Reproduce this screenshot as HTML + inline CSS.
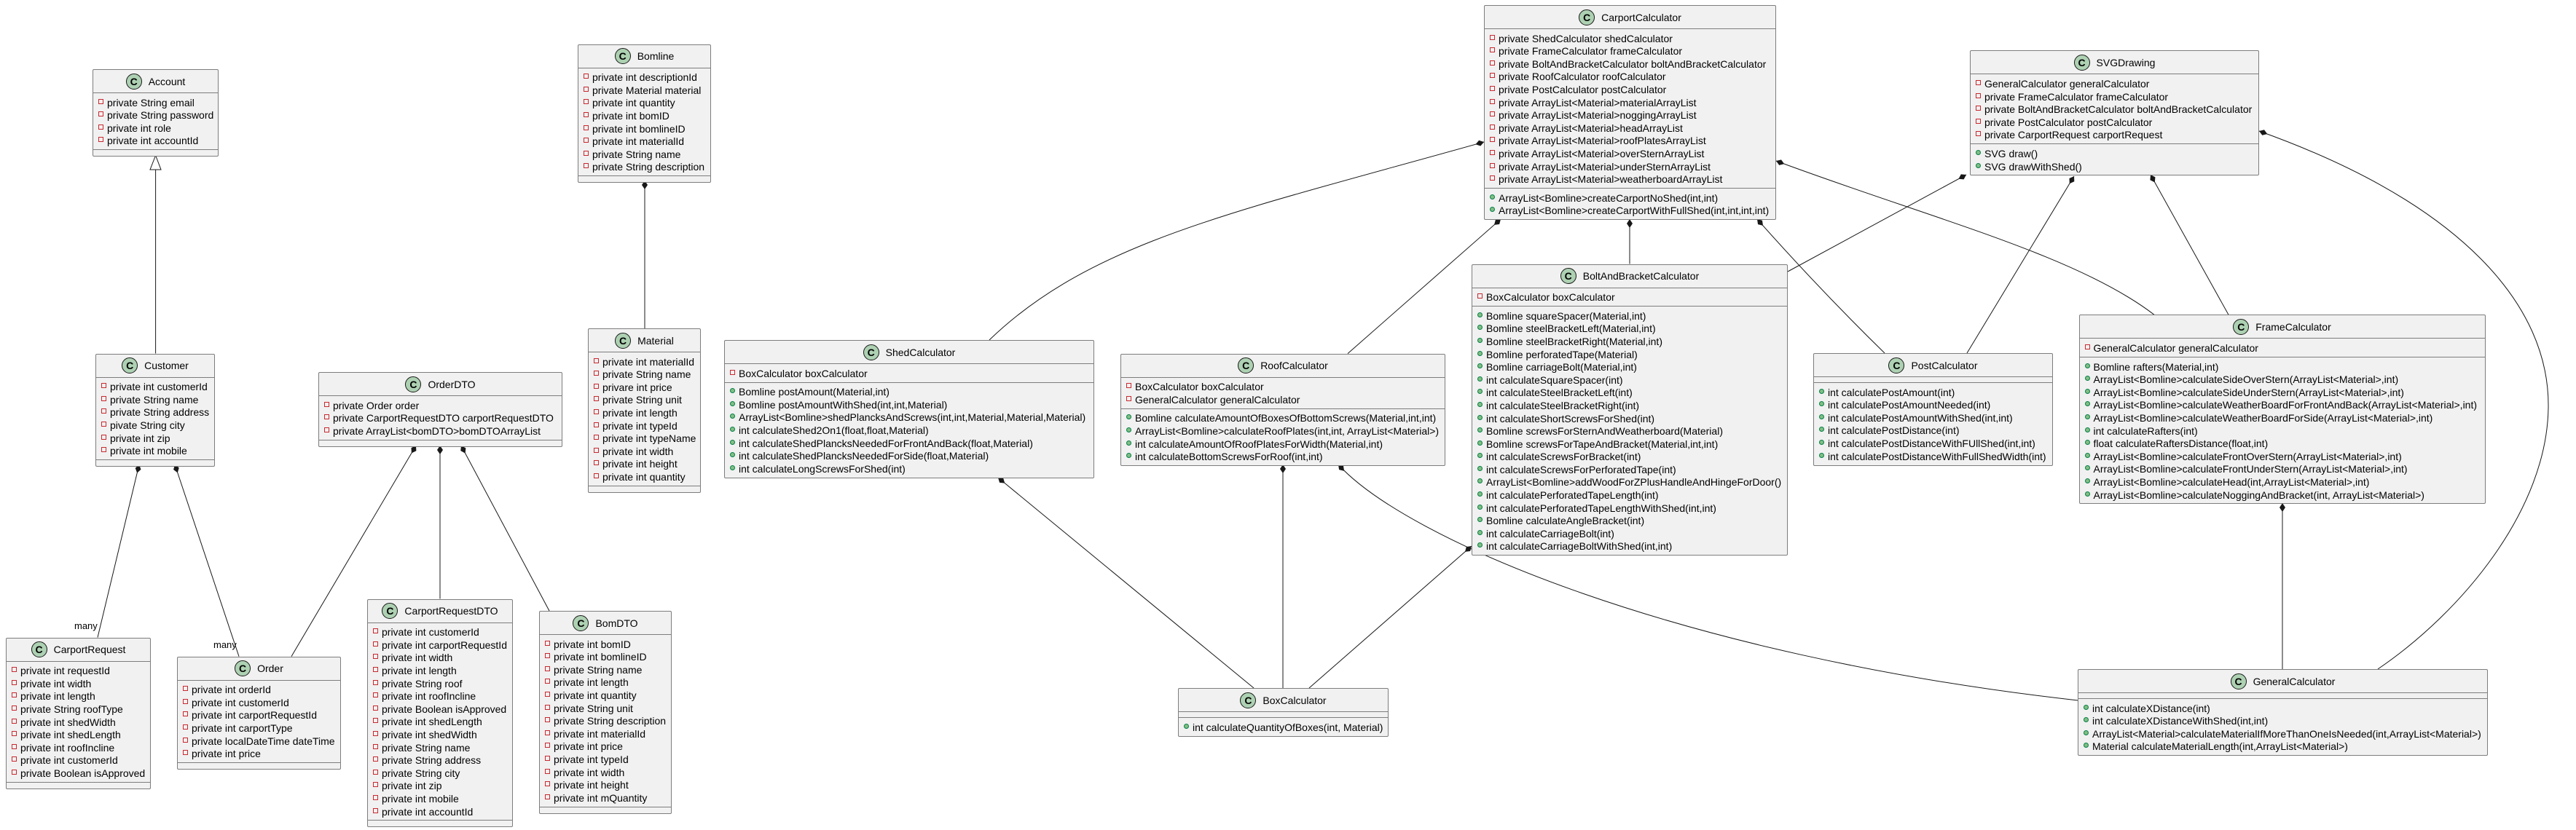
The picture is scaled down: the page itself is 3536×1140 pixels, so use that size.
<!DOCTYPE html>
<html><head><meta charset="utf-8"><style>
html,body{margin:0;padding:0;background:#fff}
body{width:3536px;height:1140px;position:relative;overflow:hidden}
svg{position:absolute;left:0;top:0}
.c{position:absolute;background:#F1F1F1;border:1px solid #7d7d7d;border-radius:2px;box-sizing:border-box;font:14px "Liberation Sans",sans-serif;color:#000}
.h{height:32px;display:flex;align-items:center;justify-content:center;border-bottom:1px solid #7d7d7d;box-sizing:border-box;white-space:nowrap}
.i{width:22px;height:22px;border-radius:50%;background:#ADD1B2;border:1px solid #181818;box-sizing:border-box;font-weight:bold;font-size:14px;display:flex;align-items:center;justify-content:center;margin-right:9px}
.s{padding:4.7px 0 2.3px;border-bottom:1px solid #7d7d7d}
.s:last-child{border-bottom:none}
.e{height:8px;border-bottom:1px solid #7d7d7d;box-sizing:border-box}
.e:last-child{border-bottom:none}
.r{height:17.6px;line-height:17.6px;padding-left:19px;position:relative;white-space:nowrap}
.p::before{content:"";position:absolute;left:7px;top:3px;width:5px;height:5px;border:1px solid #C82930}
.m::before{content:"";position:absolute;left:7px;top:3px;width:5px;height:5px;border-radius:50%;background:#84BE84;border:1px solid #038048}
.lbl{position:absolute;font:13px "Liberation Sans",sans-serif}
</style></head><body>
<svg width="3536" height="1140" viewBox="0 0 3536 1140">
<g fill="none" stroke="#181818" stroke-width="1">
<path d="M885,248 L885,451"/>
<path d="M213.6,233 L213.6,485.5"/>
<path d="M191,638 L134,875.5"/>
<path d="M240,638 L328,901.6"/>
<path d="M571,612 L400,901.6"/>
<path d="M604,612 L604,822.5"/>
<path d="M633,612 L754,839"/>
<path d="M2037,195 C1700,290 1500,330 1358,467"/>
<path d="M2060,301 L1850,485.6"/>
<path d="M2237,301 L2237,362.5"/>
<path d="M2412,301 Q2500,400 2587,485"/>
<path d="M2438,221 C2650,300 2850,350 2957,432.3"/>
<path d="M2699,240 L2454,373"/>
<path d="M2847,242 L2700,485"/>
<path d="M2952,240 L3059,432.3"/>
<path d="M3101,180 C3380,280 3500,420 3498,560 S3380,840 3264,919"/>
<path d="M3133,691 L3133,919"/>
<path d="M1370,656 L1721,945"/>
<path d="M1761,638 L1761,945"/>
<path d="M1837,638 C1930,740 2300,900 2852,962"/>
<path d="M2020,750 L1797,945"/>
</g>
<polygon points="213.6,213.5 206,233 221,233" fill="#fff" stroke="#181818"/>
<g fill="#181818">
<polygon points="0,0 6,-4 12,0 6,4" transform="translate(885,248) rotate(90)"/>
<polygon points="0,0 6,-4 12,0 6,4" transform="translate(191,638) rotate(103.5)"/>
<polygon points="0,0 6,-4 12,0 6,4" transform="translate(240,638) rotate(71.5)"/>
<polygon points="0,0 6,-4 12,0 6,4" transform="translate(571,612) rotate(120.6)"/>
<polygon points="0,0 6,-4 12,0 6,4" transform="translate(604,612) rotate(90)"/>
<polygon points="0,0 6,-4 12,0 6,4" transform="translate(633,612) rotate(61.9)"/>
<polygon points="0,0 6,-4 12,0 6,4" transform="translate(2037,195) rotate(164.3)"/>
<polygon points="0,0 6,-4 12,0 6,4" transform="translate(2060,301) rotate(138.6)"/>
<polygon points="0,0 6,-4 12,0 6,4" transform="translate(2237,301) rotate(90)"/>
<polygon points="0,0 6,-4 12,0 6,4" transform="translate(2412,301) rotate(48)"/>
<polygon points="0,0 6,-4 12,0 6,4" transform="translate(2438,221) rotate(20.4)"/>
<polygon points="0,0 6,-4 12,0 6,4" transform="translate(2699,240) rotate(151.5)"/>
<polygon points="0,0 6,-4 12,0 6,4" transform="translate(2847,242) rotate(121.2)"/>
<polygon points="0,0 6,-4 12,0 6,4" transform="translate(2952,240) rotate(60.9)"/>
<polygon points="0,0 6,-4 12,0 6,4" transform="translate(3101,180) rotate(19.7)"/>
<polygon points="0,0 6,-4 12,0 6,4" transform="translate(3133,691) rotate(90)"/>
<polygon points="0,0 6,-4 12,0 6,4" transform="translate(1370,656) rotate(39.4)"/>
<polygon points="0,0 6,-4 12,0 6,4" transform="translate(1761,638) rotate(90)"/>
<polygon points="0,0 6,-4 12,0 6,4" transform="translate(1837,638) rotate(47.6)"/>
<polygon points="0,0 6,-4 12,0 6,4" transform="translate(2020,750) rotate(138.8)"/>
</g>
</svg>
<div class="lbl" style="left:102px;top:852px">many</div>
<div class="lbl" style="left:293px;top:878px">many</div>

<div class="c" style="left:127px;top:95px;width:173px"><div class="h"><span class="i">C</span>Account</div>
<div class="s"><div class="r p">private String email</div><div class="r p">private String password</div><div class="r p">private int role</div><div class="r p">private int accountId</div></div><div class="e"></div></div>

<div class="c" style="left:793px;top:60.5px;width:183px"><div class="h"><span class="i">C</span>Bomline</div>
<div class="s"><div class="r p">private int descriptionId</div><div class="r p">private Material material</div><div class="r p">private int quantity</div><div class="r p">private int bomID</div><div class="r p">private int bomlineID</div><div class="r p">private int materialId</div><div class="r p">private String name</div><div class="r p">private String description</div></div><div class="e"></div></div>

<div class="c" style="left:807px;top:451px;width:155px"><div class="h"><span class="i">C</span>Material</div>
<div class="s"><div class="r p">private int materialId</div><div class="r p">private String name</div><div class="r p">privare int price</div><div class="r p">private String unit</div><div class="r p">private int length</div><div class="r p">private int typeId</div><div class="r p">private int typeName</div><div class="r p">private int width</div><div class="r p">private int height</div><div class="r p">private int quantity</div></div><div class="e"></div></div>

<div class="c" style="left:131px;top:485.5px;width:164px"><div class="h"><span class="i">C</span>Customer</div>
<div class="s"><div class="r p">private int customerId</div><div class="r p">private String name</div><div class="r p">private String address</div><div class="r p">pivate String city</div><div class="r p">private int zip</div><div class="r p">private int mobile</div></div><div class="e"></div></div>

<div class="c" style="left:437px;top:511px;width:335px"><div class="h"><span class="i">C</span>OrderDTO</div>
<div class="s"><div class="r p">private Order order</div><div class="r p">private CarportRequestDTO carportRequestDTO</div><div class="r p">private ArrayList&lt;bomDTO&gt;bomDTOArrayList</div></div><div class="e"></div></div>

<div class="c" style="left:8px;top:875.5px;width:199px"><div class="h"><span class="i">C</span>CarportRequest</div>
<div class="s"><div class="r p">private int requestId</div><div class="r p">private int width</div><div class="r p">private int length</div><div class="r p">private String roofType</div><div class="r p">private int shedWidth</div><div class="r p">private int shedLength</div><div class="r p">private int roofIncline</div><div class="r p">private int customerId</div><div class="r p">private Boolean isApproved</div></div><div class="e"></div></div>

<div class="c" style="left:243px;top:901.6px;width:225px"><div class="h"><span class="i">C</span>Order</div>
<div class="s"><div class="r p">private int orderId</div><div class="r p">private int customerId</div><div class="r p">private int carportRequestId</div><div class="r p">private int carportType</div><div class="r p">private localDateTime dateTime</div><div class="r p">private int price</div></div><div class="e"></div></div>

<div class="c" style="left:504px;top:822.5px;width:200px"><div class="h"><span class="i">C</span>CarportRequestDTO</div>
<div class="s"><div class="r p">private int customerId</div><div class="r p">private int carportRequestId</div><div class="r p">private int width</div><div class="r p">private int length</div><div class="r p">private String roof</div><div class="r p">private int roofIncline</div><div class="r p">private Boolean isApproved</div><div class="r p">private int shedLength</div><div class="r p">private int shedWidth</div><div class="r p">private String name</div><div class="r p">private String address</div><div class="r p">private String city</div><div class="r p">private int zip</div><div class="r p">private int mobile</div><div class="r p">private int accountId</div></div><div class="e"></div></div>

<div class="c" style="left:740px;top:839px;width:182px"><div class="h"><span class="i">C</span>BomDTO</div>
<div class="s"><div class="r p">private int bomID</div><div class="r p">private int bomlineID</div><div class="r p">private String name</div><div class="r p">private int length</div><div class="r p">private int quantity</div><div class="r p">private String unit</div><div class="r p">private String description</div><div class="r p">private int materialId</div><div class="r p">private int price</div><div class="r p">private int typeId</div><div class="r p">private int width</div><div class="r p">private int height</div><div class="r p">private int mQuantity</div></div><div class="e"></div></div>

<div class="c" style="left:994px;top:467px;width:508px"><div class="h"><span class="i">C</span>ShedCalculator</div>
<div class="s"><div class="r p">BoxCalculator boxCalculator</div></div>
<div class="s"><div class="r m">Bomline postAmount(Material,int)</div><div class="r m">Bomline postAmountWithShed(int,int,Material)</div><div class="r m">ArrayList&lt;Bomline&gt;shedPlancksAndScrews(int,int,Material,Material,Material)</div><div class="r m">int calculateShed2On1(float,float,Material)</div><div class="r m">int calculateShedPlancksNeededForFrontAndBack(float,Material)</div><div class="r m">int calculateShedPlancksNeededForSide(float,Material)</div><div class="r m">int calculateLongScrewsForShed(int)</div></div></div>

<div class="c" style="left:1538px;top:485.6px;width:446px"><div class="h"><span class="i">C</span>RoofCalculator</div>
<div class="s"><div class="r p">BoxCalculator boxCalculator</div><div class="r p">GeneralCalculator generalCalculator</div></div>
<div class="s"><div class="r m">Bomline calculateAmountOfBoxesOfBottomScrews(Material,int,int)</div><div class="r m">ArrayList&lt;Bomline&gt;calculateRoofPlates(int,int, ArrayList&lt;Material&gt;)</div><div class="r m">int calculateAmountOfRoofPlatesForWidth(Material,int)</div><div class="r m">int calculateBottomScrewsForRoof(int,int)</div></div></div>

<div class="c" style="left:1617px;top:945px;width:289px"><div class="h"><span class="i">C</span>BoxCalculator</div>
<div class="e"></div>
<div class="s"><div class="r m">int calculateQuantityOfBoxes(int, Material)</div></div></div>

<div class="c" style="left:2037px;top:7px;width:401px"><div class="h"><span class="i">C</span>CarportCalculator</div>
<div class="s"><div class="r p">private ShedCalculator shedCalculator</div><div class="r p">private FrameCalculator frameCalculator</div><div class="r p">private BoltAndBracketCalculator boltAndBracketCalculator</div><div class="r p">private RoofCalculator roofCalculator</div><div class="r p">private PostCalculator postCalculator</div><div class="r p">private ArrayList&lt;Material&gt;materialArrayList</div><div class="r p">private ArrayList&lt;Material&gt;noggingArrayList</div><div class="r p">private ArrayList&lt;Material&gt;headArrayList</div><div class="r p">private ArrayList&lt;Material&gt;roofPlatesArrayList</div><div class="r p">private ArrayList&lt;Material&gt;overSternArrayList</div><div class="r p">private ArrayList&lt;Material&gt;underSternArrayList</div><div class="r p">private ArrayList&lt;Material&gt;weatherboardArrayList</div></div>
<div class="s"><div class="r m">ArrayList&lt;Bomline&gt;createCarportNoShed(int,int)</div><div class="r m">ArrayList&lt;Bomline&gt;createCarportWithFullShed(int,int,int,int)</div></div></div>

<div class="c" style="left:2020px;top:362.5px;width:434px"><div class="h"><span class="i">C</span>BoltAndBracketCalculator</div>
<div class="s"><div class="r p">BoxCalculator boxCalculator</div></div>
<div class="s"><div class="r m">Bomline squareSpacer(Material,int)</div><div class="r m">Bomline steelBracketLeft(Material,int)</div><div class="r m">Bomline steelBracketRight(Material,int)</div><div class="r m">Bomline perforatedTape(Material)</div><div class="r m">Bomline carriageBolt(Material,int)</div><div class="r m">int calculateSquareSpacer(int)</div><div class="r m">int calculateSteelBracketLeft(int)</div><div class="r m">int calculateSteelBracketRight(int)</div><div class="r m">int calculateShortScrewsForShed(int)</div><div class="r m">Bomline screwsForSternAndWeatherboard(Material)</div><div class="r m">Bomline screwsForTapeAndBracket(Material,int,int)</div><div class="r m">int calculateScrewsForBracket(int)</div><div class="r m">int calculateScrewsForPerforatedTape(int)</div><div class="r m">ArrayList&lt;Bomline&gt;addWoodForZPlusHandleAndHingeForDoor()</div><div class="r m">int calculatePerforatedTapeLength(int)</div><div class="r m">int calculatePerforatedTapeLengthWithShed(int,int)</div><div class="r m">Bomline calculateAngleBracket(int)</div><div class="r m">int calculateCarriageBolt(int)</div><div class="r m">int calculateCarriageBoltWithShed(int,int)</div></div></div>

<div class="c" style="left:2489px;top:485px;width:329px"><div class="h"><span class="i">C</span>PostCalculator</div>
<div class="e"></div>
<div class="s"><div class="r m">int calculatePostAmount(int)</div><div class="r m">int calculatePostAmountNeeded(int)</div><div class="r m">int calculatePostAmountWithShed(int,int)</div><div class="r m">int calculatePostDistance(int)</div><div class="r m">int calculatePostDistanceWithFUllShed(int,int)</div><div class="r m">int calculatePostDistanceWithFullShedWidth(int)</div></div></div>

<div class="c" style="left:2704px;top:69.3px;width:397px"><div class="h"><span class="i">C</span>SVGDrawing</div>
<div class="s"><div class="r p">GeneralCalculator generalCalculator</div><div class="r p">private FrameCalculator frameCalculator</div><div class="r p">private BoltAndBracketCalculator boltAndBracketCalculator</div><div class="r p">private PostCalculator postCalculator</div><div class="r p">private CarportRequest carportRequest</div></div>
<div class="s"><div class="r m">SVG draw()</div><div class="r m">SVG drawWithShed()</div></div></div>

<div class="c" style="left:2853.5px;top:432.3px;width:558px"><div class="h"><span class="i">C</span>FrameCalculator</div>
<div class="s"><div class="r p">GeneralCalculator generalCalculator</div></div>
<div class="s"><div class="r m">Bomline rafters(Material,int)</div><div class="r m">ArrayList&lt;Bomline&gt;calculateSideOverStern(ArrayList&lt;Material&gt;,int)</div><div class="r m">ArrayList&lt;Bomline&gt;calculateSideUnderStern(ArrayList&lt;Material&gt;,int)</div><div class="r m">ArrayList&lt;Bomline&gt;calculateWeatherBoardForFrontAndBack(ArrayList&lt;Material&gt;,int)</div><div class="r m">ArrayList&lt;Bomline&gt;calculateWeatherBoardForSide(ArrayList&lt;Material&gt;,int)</div><div class="r m">int calculateRafters(int)</div><div class="r m">float calculateRaftersDistance(float,int)</div><div class="r m">ArrayList&lt;Bomline&gt;calculateFrontOverStern(ArrayList&lt;Material&gt;,int)</div><div class="r m">ArrayList&lt;Bomline&gt;calculateFrontUnderStern(ArrayList&lt;Material&gt;,int)</div><div class="r m">ArrayList&lt;Bomline&gt;calculateHead(int,ArrayList&lt;Material&gt;,int)</div><div class="r m">ArrayList&lt;Bomline&gt;calculateNoggingAndBracket(int, ArrayList&lt;Material&gt;)</div></div></div>

<div class="c" style="left:2852px;top:919px;width:563px"><div class="h"><span class="i">C</span>GeneralCalculator</div>
<div class="e"></div>
<div class="s"><div class="r m">int calculateXDistance(int)</div><div class="r m">int calculateXDistanceWithShed(int,int)</div><div class="r m">ArrayList&lt;Material&gt;calculateMaterialIfMoreThanOneIsNeeded(int,ArrayList&lt;Material&gt;)</div><div class="r m">Material calculateMaterialLength(int,ArrayList&lt;Material&gt;)</div></div></div>
</body></html>
